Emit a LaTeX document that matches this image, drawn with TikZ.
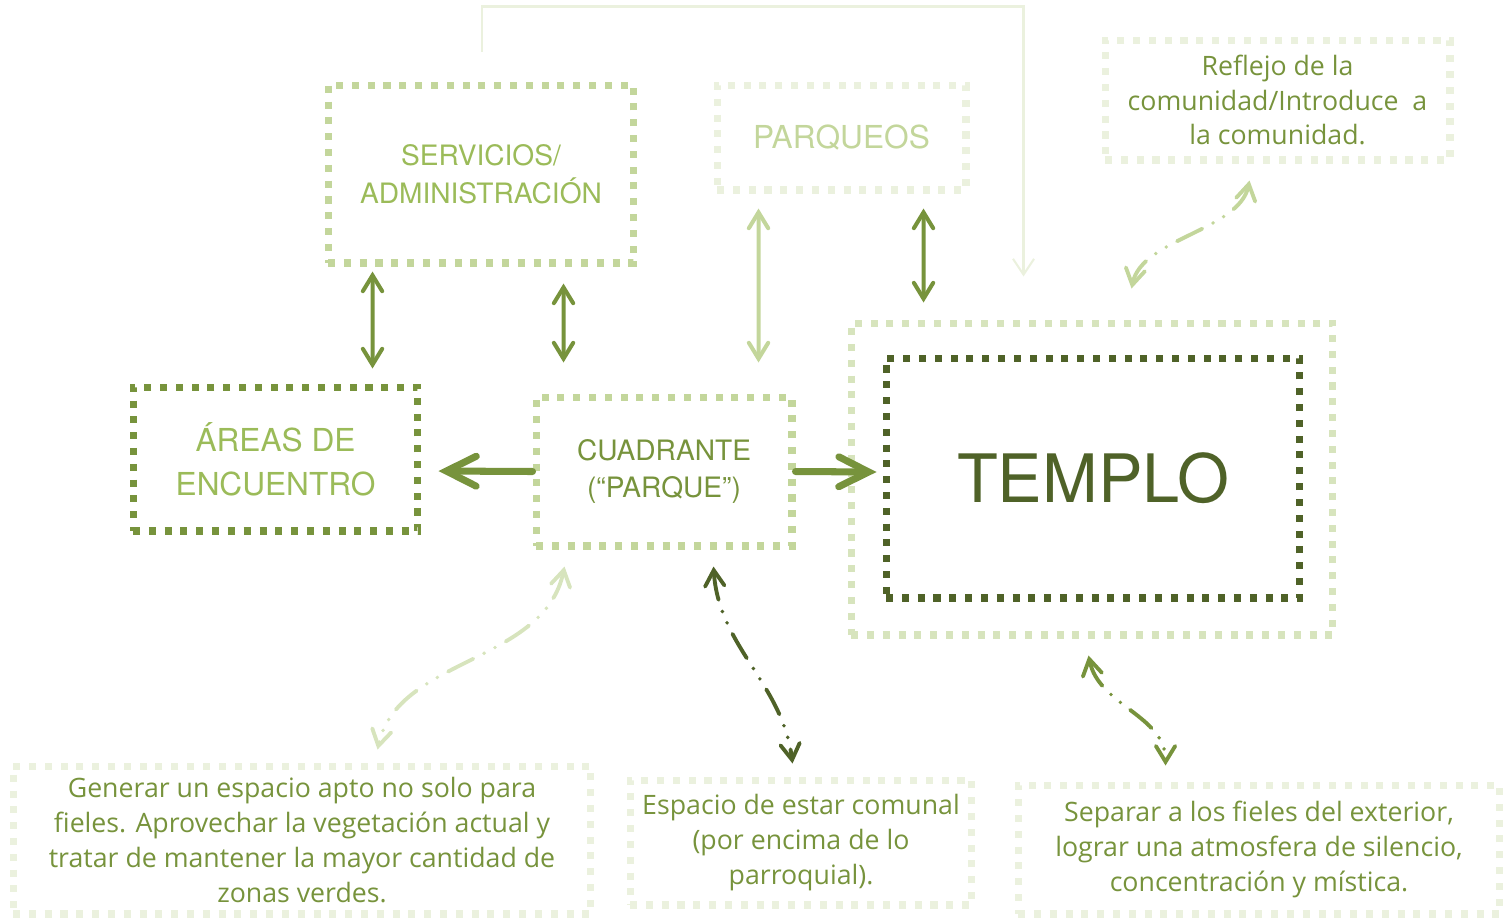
\documentclass[tikz,border=0pt]{standalone}
\usepackage{fontspec}
\setmainfont{Open Sans}
\newfontfamily\headfont{TeX Gyre Heros}
\usetikzlibrary{arrows.meta,calc}
\definecolor{gdark}{HTML}{4F6228}
\definecolor{gmid}{HTML}{77933C}
\definecolor{gsoft}{HTML}{9BBB59}
\definecolor{glight}{HTML}{C3D69B}
\definecolor{gpale}{HTML}{D7E4BD}
\definecolor{gfaint}{HTML}{EBF1DE}

\begin{document}
\begin{tikzpicture}[
  x=0.02cm,y=-0.02cm,
  >={Straight Barb[length=9pt,width=11pt,line cap=round]},
  box/.style={draw,line width=4pt,dash pattern=on 4pt off 5pt,inner sep=0pt,align=center},
  head/.style 2 args={font=\headfont\fontsize{#1}{#2}\selectfont},
  note/.style={font=\fontsize{15.2}{19.8}\selectfont,text=gmid},
  lnk/.style={line width=2.3pt,line cap=round,<->},
  push/.style={draw=gmid,line width=4pt,line cap=round,
    -{Straight Barb[length=17pt,width=17pt,line cap=round]}},
  curv/.style={line width=2.2pt,line cap=round,<->,
    dash pattern=on 16pt off 7pt on 0pt off 7pt on 0pt off 7pt},
]
\useasboundingbox (0,0) rectangle (1506,917);

% upper row
\node[box,draw=glight,text=gsoft,head={16}{21.5},minimum width=6.12cm,minimum height=3.56cm]
  (serv) at (481,174) {SERVICIOS/\\ADMINISTRACIÓN};
\node[box,draw=gfaint,text=glight,head={18}{24},minimum width=4.98cm,minimum height=2.1cm]
  (parq) at (841.5,137.5) {PARQUEOS};
\node[box,draw=gfaint,note,minimum width=6.9cm,minimum height=2.4cm]
  (refl) at (1277.5,100) {Reflejo de la\\comunidad/Introduce~ a\\la comunidad.};

% middle row
\node[box,draw=gmid,text=gsoft,head={18}{25},minimum width=5.7cm,minimum height=2.88cm]
  (areas) at (275.5,459) {ÁREAS DE\\ENCUENTRO};
\node[box,draw=glight,text=gmid,head={16}{21},minimum width=5.12cm,minimum height=2.98cm]
  (cuad) at (664,471.5) {CUADRANTE\\(“PARQUE”)};
\node[box,draw=gpale,minimum width=9.64cm,minimum height=6.24cm]
  (tmpout) at (1092,479) {};
\node[box,draw=gdark,text=gdark,head={38}{44},minimum width=8.28cm,minimum height=4.8cm]
  (tmpin) at (1093,478) {TEMPLO};

% lower row
\node[box,draw=gfaint,note,minimum width=11.56cm,minimum height=2.96cm]
  (bl) at (302,840) {Generar un espacio apto no solo para\\fieles. Aprovechar la vegetación actual y\\tratar de mantener la mayor cantidad de\\zonas verdes.};
\node[box,draw=gfaint,note,minimum width=6.84cm,minimum height=2.5cm]
  (bm) at (801,842.5) {Espacio de estar comunal\\(por encima de lo\\parroquial).};
\node[box,draw=gfaint,note,minimum width=9.64cm,minimum height=2.58cm]
  (br) at (1259,849.5) {Separar a los fieles del exterior,\\lograr una atmosfera de silencio,\\concentración y mística.};

% links
\draw[lnk,gmid] ($(serv.south west)+(48,5)$) -- ($(areas.north west)+(243,-15)$);
\draw[lnk,gmid] ($(serv.south west)+(239,17)$) -- ($(cuad.north west)+(31,-31)$);
\draw[lnk,glight] ($(parq.south west)+(45,15)$) -- ($(cuad.north west)+(226,-31)$);
\draw[lnk,gmid] ($(parq.south west)+(210,15)$) -- ($(tmpout.north west)+(76,-17)$);
\draw[push] (cuad.west) -- ($(areas.east)+(17,12)$);
\draw[push] (cuad.east) -- ($(tmpin.west)+(-6,-6)$);
\draw[gfaint,line width=1.2pt,-{Straight Barb[length=9pt,width=12pt]}]
  ($(serv.north)+(1,-30)$) -- ++(0,-45) -| ($(tmpout.north west)+(176,-43)$);

% dash-dot curves
\draw[curv,glight] ($(refl.south west)+(148,17)$) .. controls +(-10,50) and +(10,-50) .. ($(tmpout.north west)+(284,-31)$);
\draw[curv,gpale] ($(cuad.south west)+(32,17)$) .. controls +(-20,97) and +(20,-92) .. ($(bl.north west)+(368,-13)$);
\draw[curv,gdark] ($(cuad.south west)+(181,17)$) .. controls +(5,80) and +(-10,-80) .. ($(bm.north west)+(166,-13)$);
\draw[curv,gmid] ($(tmpout.south west)+(241,17)$) .. controls +(10,50) and +(0,-50) .. ($(br.north west)+(151,-16)$);
\end{tikzpicture}
\end{document}
